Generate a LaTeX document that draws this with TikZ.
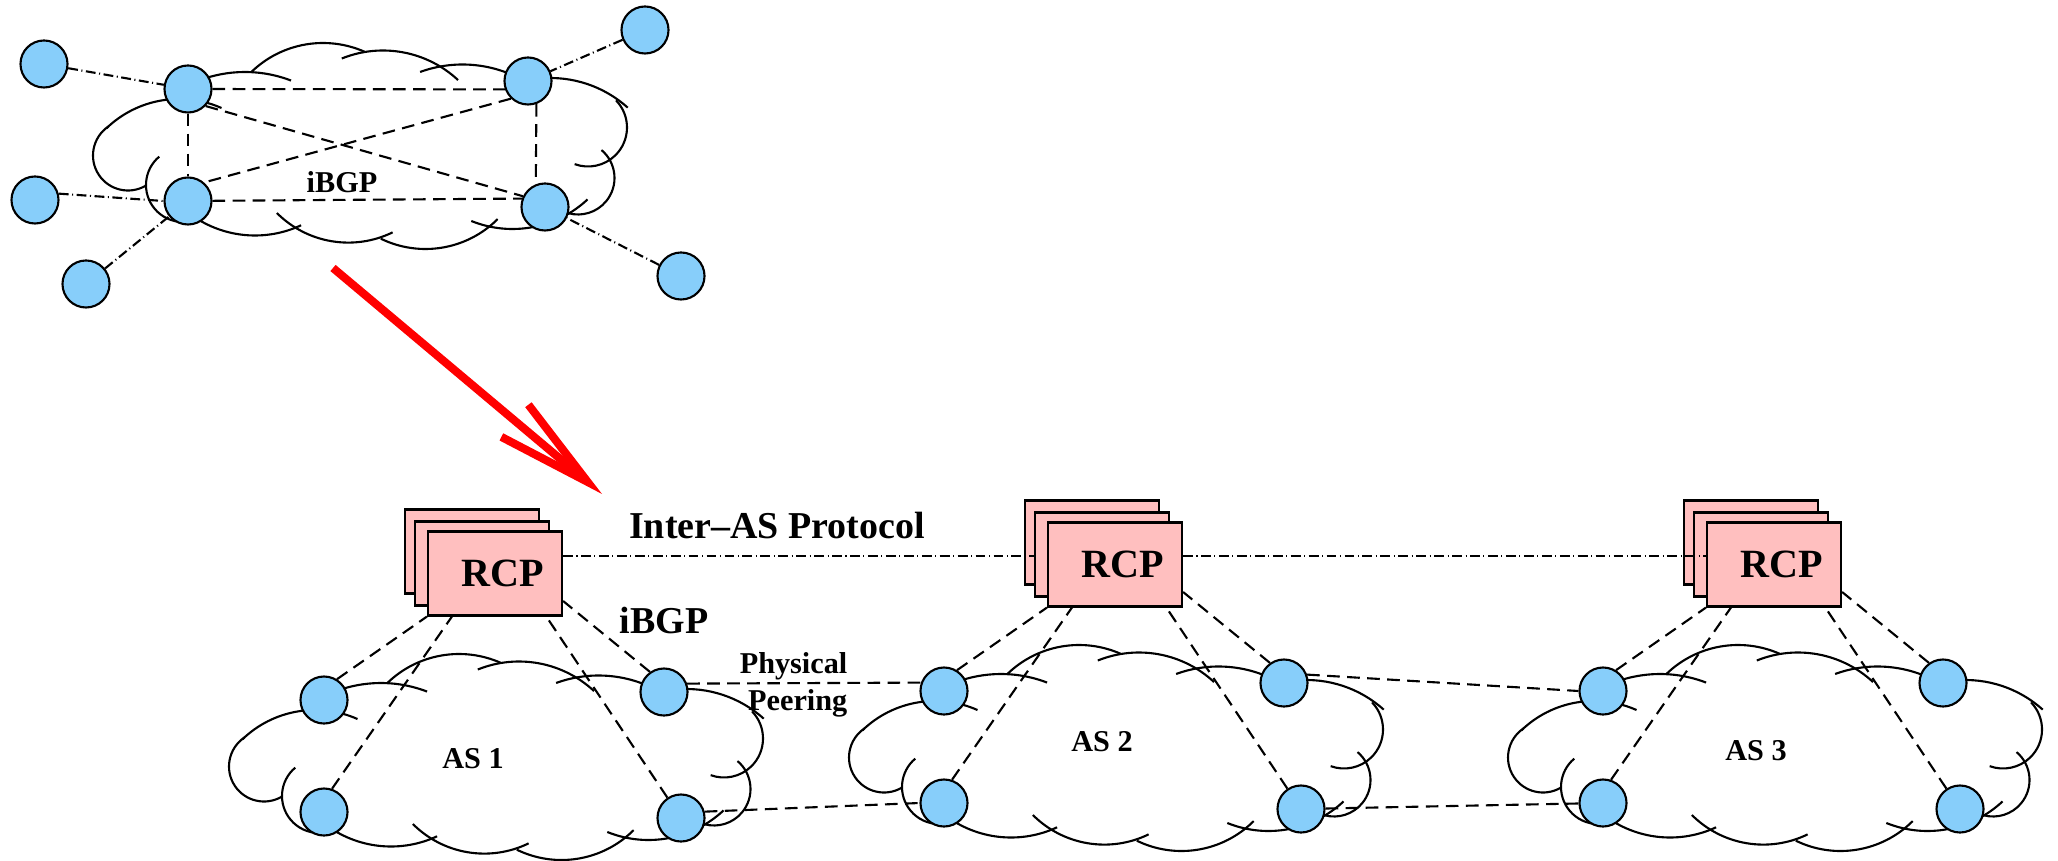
\documentclass[tikz,border=0pt]{standalone}
\usepackage{fontspec}
\setmainfont{Liberation Serif}
\usetikzlibrary{arrows.meta}
\definecolor{routerblue}{RGB}{135,206,250}
\definecolor{rcppink}{RGB}{255,191,191}

\tikzset{
  router/.style={circle,draw,line width=0.6pt,fill=routerblue,minimum size=0.47cm,inner sep=0pt},
  rcpbox/.style={rectangle,draw,line width=0.6pt,fill=rcppink,minimum width=1.34cm,minimum height=0.84cm,inner sep=0pt,
    font=\fontsize{11.4pt}{13pt}\selectfont\bfseries},
  cloudline/.style={line width=0.6pt},
  ibgp/.style={line width=0.6pt,dash pattern=on 3.6pt off 2.1pt},
  extlink/.style={line width=0.6pt,dash pattern=on 2.8pt off 1pt on 0.3pt off 1pt},
  bigtext/.style={inner sep=0pt,font=\fontsize{10.8pt}{13pt}\selectfont\bfseries},
  smalltext/.style={inner sep=0pt,font=\fontsize{8.6pt}{10.5pt}\selectfont\bfseries},
  redarrow/.style={draw=red,line width=2.3pt,line join=miter,-{Straight Barb[length=0.95cm,width=0.42cm]}}
}

% one puff of the cloud: centre, start angle, end angle, radius
\newcommand{\puff}[4]{\draw[cloudline] (#1) ++(#2:#4) arc[start angle=#2,end angle=#3,radius=#4];}
% the AS cloud, drawn round the local origin
\newcommand{\bgpcloud}{%
  \puff{128,-155.5}{124}{300}{35}
  \puff{179,-203.5}{134}{66}{104.5}
  \puff{245,-200.5}{108}{69}{128.5}
  \puff{323,-146}{134}{66}{103}
  \puff{383,-160.5}{112}{47}{110}
  \puff{462.5,-188.5}{110}{65}{124}
  \puff{550.5,-193.4}{95}{48}{115.4}
  \puff{588,-127.5}{44}{-110}{39}
  \puff{578,-178}{50}{-105}{36.5}
  \puff{512.5,-119}{-47}{-112}{110}
  \puff{425.5,-147}{-45}{-116}{102}
  \puff{348.3,-141.6}{-64}{-135}{101}
  \puff{255,-126.5}{-65}{-125}{109}
  \puff{183,-185}{130}{270}{37}}

\begin{document}
\begin{tikzpicture}[x=0.01cm,y=0.01cm]
\useasboundingbox (0,0) rectangle (2058,-861);

% today: full iBGP mesh
\bgpcloud
\node[router] (br1) at (188,-89) {};
\node[router] (br2) at (528,-81) {};
\node[router] (br3) at (188,-201) {};
\node[router] (br4) at (545,-207) {};
\node[router] (ext1) at (44,-64) {};
\node[router] (ext2) at (645,-30) {};
\node[router] (ext3) at (35,-200) {};
\node[router] (ext4) at (86,-284) {};
\node[router] (ext5) at (681,-276) {};
\node[smalltext] (ibgptop) at (342,-182) {iBGP};
\draw[ibgp] (br1) -- (br2.200);
\draw[ibgp] (br1) -- (br3);
\draw[ibgp] (br1.-44) -- (br4.154);
\draw[ibgp] (br2.226) -- (br3.49);
\draw[ibgp] (br2.-70) -- (br4.112);
\draw[ibgp] (br3) -- (br4.160);
\draw[extlink] (ext1) -- (br1);
\draw[extlink] (ext2) -- (br2);
\draw[extlink] (ext3.15) -- (br3.west);
\draw[extlink] (ext4) -- (br3);
\draw[extlink] (ext5) -- (br4);

\coordinate (arrowtail) at (333,-268);
\coordinate (arrowtip) at (602,-494);
\draw[redarrow] (arrowtail) -- (arrowtip);

% with RCP
\begin{scope}[shift={(136,-611)}]
\bgpcloud
\node[router] (as1a) at (188,-89) {};
\node[router] (as1b) at (188,-201) {};
\node[router] (as1c) at (528,-81) {};
\node[router] (as1d) at (545,-207) {};
\node[rcpbox] (rcp1b) at (336,59.5) {};
\node[rcpbox] (rcp1m) at (346,47.5) {};
\node[rcpbox] (rcp1) at (359,37.5) {\hspace*{0.16cm}RCP};
\end{scope}
\begin{scope}[shift={(756,-602)}]
\bgpcloud
\node[router] (as2a) at (188,-89) {};
\node[router] (as2b) at (188,-201) {};
\node[router] (as2c) at (528,-81) {};
\node[router] (as2d) at (545,-207) {};
\node[rcpbox] (rcp2b) at (336,59.5) {};
\node[rcpbox] (rcp2m) at (346,47.5) {};
\node[rcpbox] (rcp2) at (359,37.5) {\hspace*{0.16cm}RCP};
\end{scope}
\begin{scope}[shift={(1415,-602)}]
\bgpcloud
\node[router] (as3a) at (188,-89) {};
\node[router] (as3b) at (188,-201) {};
\node[router] (as3c) at (528,-81) {};
\node[router] (as3d) at (545,-207) {};
\node[rcpbox] (rcp3b) at (336,59.5) {};
\node[rcpbox] (rcp3m) at (346,47.5) {};
\node[rcpbox] (rcp3) at (359,37.5) {\hspace*{0.16cm}RCP};
\end{scope}

\node[smalltext] (as1lbl) at (473,-759) {AS 1};
\node[smalltext] (as2lbl) at (1102,-742) {AS 2};
\node[smalltext] (as3lbl) at (1756,-751) {AS 3};
\node[bigtext] (interas) at (777,-526) {Inter--AS Protocol};
\node[bigtext] (ibgp) at (664,-621) {iBGP};
\node[smalltext,align=right,anchor=east] (peering) at (848,-685) {Physical\\Peering};

\coordinate (iasline) at (0,-556);
\draw[extlink] (rcp1.east |- iasline) -- (rcp2m.west |- iasline);
\draw[extlink] (rcp2.east |- iasline) -- (rcp3.west |- iasline);

\draw[ibgp] (as1a.58) -- (rcp1.south west);
\draw[ibgp] (as1b.71) -- (rcp1.225);
\draw[ibgp] (as1d) -- (rcp1.320);
\draw[ibgp] (as1c.125) -- (rcp1.338);
\draw[ibgp] (as2a.58) -- (rcp2.south west);
\draw[ibgp] (as2b.71) -- (rcp2.225);
\draw[ibgp] (as2d) -- (rcp2.320);
\draw[ibgp] (as2c.125) -- (rcp2.338);
\draw[ibgp] (as3a.58) -- (rcp3.south west);
\draw[ibgp] (as3b.71) -- (rcp3.225);
\draw[ibgp] (as3d) -- (rcp3.320);
\draw[ibgp] (as3c.125) -- (rcp3.338);

\draw[ibgp] (as1c.20) -- (as2a.160);
\draw[ibgp] (as1d.15) -- (as2b.west);
\draw[ibgp] (as2c.20) -- (as3a.west);
\draw[ibgp] (as2d) -- (as3b);
\end{tikzpicture}
\end{document}
